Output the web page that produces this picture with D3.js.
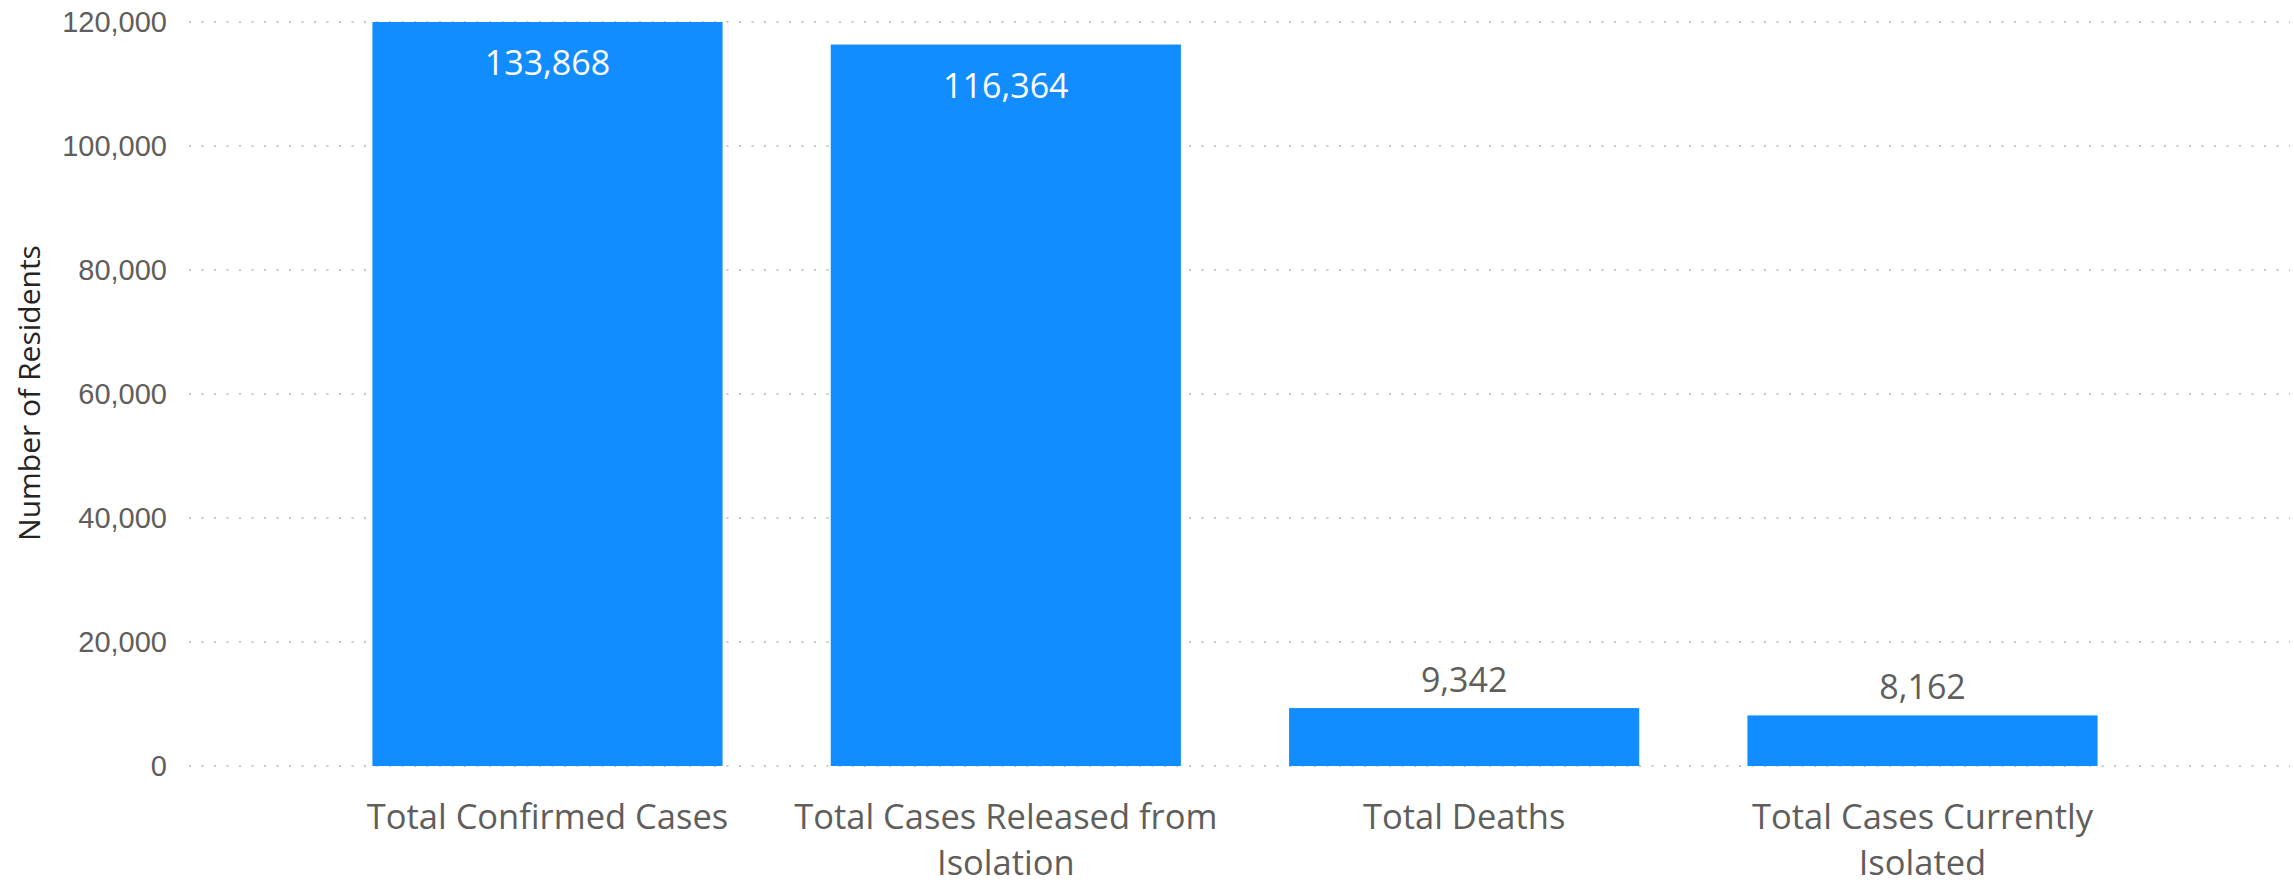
<!DOCTYPE html>
<html>
<head>
<meta charset="utf-8">
<script src="https://cdn.jsdelivr.net/npm/d3@7"></script>
<style>
  body { margin: 0; background: #fff; }
  svg { display: block; font-family: "Segoe UI", "Open Sans", sans-serif; }
  .tick text { fill: #605E5C; }
</style>
</head>
<body>
<script>
// chart data
var categories = ["Total Confirmed Cases", "Total Cases Released from Isolation", "Total Deaths", "Total Cases Currently Isolated"];
var values = [133868, 116364, 9342, 8162];
var yTicks = [0, 20000, 40000, 60000, 80000, 100000, 120000];
var yMax = 120000;
var yTitle = "Number of Residents";

var w = 2294;
var h = 883;
var plotLeft = 189, plotRight = 2290, plotTop = 22, plotBottom = 766;

var svg = d3.select("body")
      .append("svg")
      .attr("width", w)
      .attr("height", h);

var xScale = d3.scaleBand()
      .domain(categories)
      .range([plotLeft, plotRight])
      .paddingInner(0.236)
      .paddingOuter(0.41)
      .align(0.488);

// axis max is fixed, so the first bar is cut at the top
var yScale = d3.scaleLinear()
      .domain([0, yMax])
      .range([plotBottom, plotTop])
      .clamp(true);

// dotted gridlines
svg.append("g")
      .selectAll("line")
      .data(yTicks)
      .enter()
      .append("line")
      .attr("x1", plotLeft)
      .attr("x2", plotRight)
      .attr("y1", function(d) { return yScale(d); })
      .attr("y2", function(d) { return yScale(d); })
      .attr("stroke", "#C8C6C4")
      .attr("stroke-width", 2)
      .attr("stroke-dasharray", "2,10.5");

var yAxis = d3.axisLeft(yScale)
      .tickValues(yTicks)
      .tickFormat(d3.format(","))
      .tickSize(0)
      .tickPadding(22);

svg.append("g")
      .attr("transform", "translate(" + plotLeft + ",0)")
      .call(yAxis)
      .call(function(g) { g.select(".domain").remove(); })
      .selectAll("text")
      .attr("font-size", 29)
      .attr("font-family", null);

svg.append("text")
      .attr("transform", "translate(40," + 393 + ") rotate(-90)")
      .attr("text-anchor", "middle")
      .attr("font-size", 30)
      .attr("fill", "#252423")
      .text(yTitle);

// bars
svg.selectAll("rect.bar")
      .data(values)
      .enter()
      .append("rect")
      .attr("class", "bar")
      .attr("x", function(d, i) { return xScale(categories[i]); })
      .attr("width", xScale.bandwidth())
      .attr("y", function(d) { return yScale(d); })
      .attr("height", function(d) { return plotBottom - yScale(d); })
      .attr("fill", "#118DFF");

// value labels: inside the bar if it is tall, otherwise above it
svg.selectAll("text.value")
      .data(values)
      .enter()
      .append("text")
      .attr("class", "value")
      .attr("x", function(d, i) { return xScale(categories[i]) + xScale.bandwidth() / 2; })
      .attr("y", function(d) {
            var inside = plotBottom - yScale(d) > 100;
            return inside ? yScale(d) + 53 : yScale(d) - 16;
      })
      .attr("text-anchor", "middle")
      .attr("font-size", 34)
      .attr("fill", function(d) { return plotBottom - yScale(d) > 100 ? "#ffffff" : "#605E5C"; })
      .text(function(d) { return d3.format(",")(d); });

// category labels, wrapped to the band step
var xAxisG = svg.append("g");
var step = xScale.step();
categories.forEach(function(c, i) {
      var cx = xScale(c) + xScale.bandwidth() / 2;
      var t = xAxisG.append("text")
            .attr("x", cx)
            .attr("y", 829)
            .attr("text-anchor", "middle")
            .attr("font-size", 34.5)
            .attr("fill", "#605E5C");
      var words = c.split(" ");
      var line = [];
      var tspan = t.append("tspan").attr("x", cx).attr("dy", 0);
      words.forEach(function(word) {
            line.push(word);
            tspan.text(line.join(" "));
            if (tspan.node().getComputedTextLength() > step - 10 && line.length > 1) {
                  line.pop();
                  tspan.text(line.join(" "));
                  line = [word];
                  tspan = t.append("tspan").attr("x", cx).attr("dy", 46).text(word);
            }
      });
});
</script>
</body>
</html>
